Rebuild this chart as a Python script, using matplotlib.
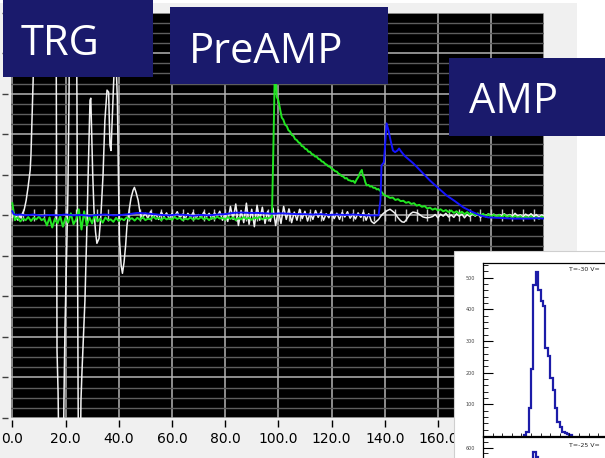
import numpy as np
import matplotlib.pyplot as plt
from matplotlib.patches import Rectangle

W, H = 605, 458

# ---------------- scope traces: time (us) / amplitude (div) ----------------
# TRG channel (white): ringing trigger pulse, then baseline
trg_pulse_t = [0.0, 0.5, 1.0, 1.6, 2.1, 2.7, 3.3, 3.8, 4.4, 5.2, 5.9, 6.7, 7.0, 7.4, 7.8, 8.2, 8.5, 8.9,
               16.4, 16.8, 17.2, 17.6, 19.1, 19.4, 19.8, 20.2, 20.6, 20.9, 21.3, 21.7,
               23.9, 24.3, 24.5, 24.7, 24.9, 25.5, 25.8, 26.2, 26.6, 27.3, 27.9, 28.5, 29.2, 29.5,
               29.8, 30.2, 30.7, 31.3, 31.8, 32.6, 33.3,
               34.1, 34.8, 35.6, 36.2, 36.7, 37.1, 37.7, 38.2, 38.8, 39.2, 39.5, 39.9, 40.3, 40.9,
               41.4, 42.0, 42.6, 43.1, 43.9, 44.6, 45.4, 45.9, 46.5, 47.3, 48.0, 48.8]
trg_pulse_v = [-0.05, 0.07, -0.10, 0.02, -0.12, 0.00, -0.07, 0.05, 0.12, 0.37, 0.69, 1.11, 1.48, 2.35, 3.28, 4.32, 5.3, 6.5,
               6.5, -3.33, -4.37, -6.5, -6.5, -4.6, -2.75, -1.6, -0.37, 0.62, 2.84, 6.5,
               6.5, 2.84, -0.86, -4.07, -6.5, -6.5, -4.57, -3.83, -3.21, -2.10, -0.62, 0.99, 2.84, 2.89,
               2.10, 1.06, 0.12, -0.42, -0.69, -0.57, 0.00,
               0.99, 2.35, 3.09, 3.04, 1.73, 1.60, 2.59, 3.46, 3.70, 3.40, 2.84, 0.86, -0.62, -1.23,
               -1.43, -1.16, -0.74, -0.25, 0.12, 0.42, 0.62, 0.69, 0.57, 0.37, 0.07, -0.07]
trg_noise_t = list(range(50, 137))
trg_noise_v = [0.05, -0.08, 0.10, -0.05, 0.02, -0.10, 0.08, -0.03, 0.06, -0.09,
               0.04, -0.02, 0.09, -0.06, 0.03, -0.08, 0.05, -0.04, 0.07, -0.07,
               0.02, -0.05, 0.08, -0.03, 0.05, -0.09, 0.06, -0.02, 0.10, -0.12,
               0.04, -0.15, 0.22, -0.10, 0.28, -0.25, 0.12, -0.18, 0.30, -0.22,
               0.15, -0.28, 0.25, -0.12, 0.20, -0.20, 0.10, -0.15, 0.18, -0.25,
               0.14, -0.20, 0.22, -0.10, 0.16, -0.18, 0.08, -0.12, 0.15, -0.08,
               0.10, -0.14, 0.06, -0.10, 0.12, -0.05, 0.08, -0.12, 0.04, -0.06,
               0.10, -0.08, 0.05, -0.10, 0.07, -0.04, 0.09, -0.07, 0.03, -0.09,
               0.06, -0.05, 0.08, -0.12, 0.04, -0.15, -0.20]
trg_ring_t = [137.7, 138.3, 139.2, 140.1, 141.0, 142.0, 143.0, 143.9, 144.9, 145.8, 146.5,
              147.3, 148.0, 148.8, 149.7, 150.6, 151.5, 152.5, 153.5, 154.4, 155.7, 157.0]
trg_ring_v = [-0.10, -0.04, 0.03, 0.08, 0.12, 0.15, 0.10, 0.05, -0.05, -0.12, -0.16,
              -0.17, -0.12, -0.04, 0.04, 0.08, 0.07, 0.05, 0.00, -0.04, -0.06, -0.05]
trg_tail_t = list(range(158, 201))
trg_tail_v = [-0.03, 0.02, -0.06, 0.03, -0.02, 0.05, -0.04, 0.01, -0.05, 0.04,
              -0.02, 0.03, -0.06, 0.02, -0.03, 0.05, -0.02, 0.04, -0.05, 0.02,
              -0.03, 0.04, -0.02, 0.03, -0.05, 0.02, -0.01, 0.04, -0.04, 0.02,
              -0.03, 0.05, -0.02, 0.01, -0.04, 0.03, -0.02, 0.04, -0.03, 0.02,
              -0.05, 0.01, -0.02]

# PreAMP channel (green)
pre_base_t = list(range(0, 98))
pre_base_v = [0.30, -0.12, -0.05, -0.15, -0.08, -0.12, -0.04, -0.14, -0.06, -0.10,
              -0.03, -0.12, -0.08, -0.25, -0.05, -0.30, -0.08, -0.20, -0.02, -0.28,
              -0.06, -0.18, 0.05, -0.22, -0.10, 0.15, -0.35, 0.10, -0.25, -0.05,
              -0.20, 0.02, -0.15, -0.08, -0.18, -0.05, -0.12, -0.10, -0.16, -0.06,
              -0.14, -0.08, -0.12, -0.05, -0.10, -0.07, -0.13, -0.06, -0.11, -0.04,
              -0.12, -0.08, -0.10, -0.03, -0.09, -0.06, -0.12, -0.05, -0.10, -0.07,
              -0.11, -0.04, -0.09, -0.06, -0.12, -0.08, -0.10, -0.05, -0.11, -0.07,
              -0.09, -0.04, -0.10, -0.06, -0.12, -0.05, -0.09, -0.03, -0.08, -0.06,
              -0.11, -0.04, -0.09, -0.05, -0.12, -0.06, -0.10, -0.04, -0.09, -0.06,
              -0.11, -0.05, -0.08, -0.04, -0.10, -0.06, -0.08, -0.05]
pre_pulse_t = [97.6, 97.9, 98.2, 98.6, 98.9, 99.4, 100.0, 100.6, 101.3, 101.9,
               102.5, 103.2, 103.8, 104.4, 105.1, 105.7, 106.3, 106.9, 107.6, 108.2,
               108.8, 109.4, 110.1, 110.7, 111.3, 111.9, 112.6, 113.2, 113.8, 114.4,
               115.1, 115.7, 116.3, 116.9, 117.6, 118.2, 118.8, 119.4, 120.1, 120.7,
               121.3, 122.0, 122.6, 123.2, 123.8, 124.4, 125.1, 125.7, 126.3, 127.0,
               127.6, 128.2, 128.8, 129.4, 130.1, 130.7, 131.4, 131.8, 132.2, 132.7,
               133.2, 133.9, 134.5, 135.1, 135.7, 136.4, 137.0, 137.6, 138.2, 138.9,
               139.5, 140.1]
pre_pulse_v = [-0.05, 0.86, 1.85, 3.33, 3.60, 2.92, 2.84, 2.64, 2.41, 2.36,
               2.24, 2.20, 2.10, 2.07, 1.98, 1.96, 1.88, 1.86, 1.80, 1.78,
               1.71, 1.70, 1.64, 1.63, 1.57, 1.57, 1.51, 1.50, 1.45, 1.45,
               1.39, 1.38, 1.33, 1.32, 1.27, 1.25, 1.21, 1.20, 1.15, 1.13,
               1.09, 1.08, 1.03, 1.01, 0.97, 0.96, 0.91, 0.92, 0.87, 0.86,
               0.84, 0.85, 0.80, 0.88, 0.95, 1.05, 1.12, 0.98, 0.95, 0.82,
               0.74, 0.75, 0.71, 0.72, 0.68, 0.68, 0.64, 0.65, 0.61, 0.57,
               0.52, 0.49]
pre_tail_t = list(range(141, 201))
pre_tail_v = [0.47, 0.43, 0.44, 0.38, 0.40, 0.35, 0.36, 0.31, 0.33, 0.28,
              0.30, 0.24, 0.26, 0.21, 0.23, 0.17, 0.19, 0.14, 0.17, 0.12,
              0.15, 0.10, 0.13, 0.08, 0.12, 0.06, 0.10, 0.04, 0.09, 0.03,
              0.08, 0.02, 0.06, 0.00, 0.05, -0.01, 0.04, -0.03, 0.03, -0.04,
              0.02, -0.04, 0.01, -0.06, 0.02, -0.05, 0.00, -0.07, -0.01, -0.06,
              -0.02, -0.08, -0.03, -0.07, -0.02, -0.08, -0.04, -0.09, -0.03, -0.07]

# AMP channel (blue)
amp_t = [0, 0.5, 1.5, 3, 5, 8,
         11, 14, 17, 20, 23, 26, 29, 32, 35, 38, 41, 44, 47, 50, 53, 56, 59, 62, 65, 68, 71,
         74, 77, 80, 83, 86, 89, 92, 95, 98, 101, 104, 107, 110, 113, 116, 119, 122, 125,
         128, 131, 134,
         137.7, 138.4, 138.8, 139.7, 140.7, 141.4, 142.2, 143.1, 143.9, 144.8, 145.4, 146.1, 147.6,
         150.8, 153.6, 157.0, 160.0, 163.3, 166.4, 169.5, 172.4, 175.8, 178.8, 182.1, 185.2,
         188.3, 191.4, 194.6, 197.0, 200.0]
amp_v = [0.10, 0.03, 0.01, 0.02, 0.00, 0.02,
         -0.01, 0.01, 0.00, 0.02, 0.00, 0.01, -0.01, 0.01, 0.02, 0.00, 0.01, 0.03, 0.06, 0.05,
         0.03, 0.01, 0.00, 0.02, 0.01, -0.01, 0.01, 0.00, 0.02, 0.03, 0.06, 0.07, 0.06, 0.06,
         0.05, 0.04, 0.05, 0.04, 0.03, 0.03, 0.02, 0.03, 0.01, 0.02, 0.01, 0.02, 0.01, 0.00,
         0.00, 0.37, 1.23, 1.31, 2.27, 2.10, 1.85, 1.60, 1.56, 1.60, 1.65, 1.58, 1.46,
         1.28, 1.09, 0.86, 0.68, 0.49, 0.35, 0.20, 0.10, 0.00, -0.05, -0.06, -0.07,
         -0.08, -0.08, -0.08, -0.07, -0.08]

xtick_vals = [0, 20, 40, 60, 80, 100, 120, 140, 160, 180, 200]
xtick_labels = ['0.0', '20.0', '40.0', '60.0', '80.0', '100.0', '120.0', '140.0', '160.0', '180.0', '200.0']

# pulse height spectra (inset)
hist_edges = [17, 18, 19, 20, 21, 22, 23, 24, 25, 26, 27, 28, 29, 30, 31, 32, 33, 34, 35, 36, 37]
hist_counts = [4, 12, 87, 210, 478, 519, 460, 425, 409, 278, 253, 184, 144, 87, 44, 28, 12, 8, 5, 2]
hist2_counts = [0, 8, 55, 240, 585, 566, 520, 450, 380, 300, 210, 150, 90, 50, 25, 12, 6, 3, 1, 0]
hist_yticks = [100, 200, 300, 400, 500]
hist_ylabels = ['100', '200', '300', '400', '500']
hist2_yticks = [500, 600]
hist2_ylabels = ['', '600']

labels = [('TRG', 3, 0, 150, 77, 21, 55),
          ('PreAMP', 170, 7, 218, 77, 189, 63),
          ('AMP', 449, 58, 170, 78, 469, 113)]

navy = '#1a1a6c'

fig = plt.figure(figsize=(W / 100, H / 100), dpi=100, facecolor='white')

# window background
bg = fig.add_axes([0, 0, 1, 1], zorder=-1)
bg.axis('off')
bg.add_patch(Rectangle((0, 3), 577, H, facecolor='#f0f0f0', edgecolor='none'))
shade = np.linspace(0.93, 0.55, 32).reshape(1, -1)
bg.imshow(shade, cmap='gray', vmin=0, vmax=1, extent=(563, 577, H, 3), aspect='auto')
bg.set_xlim(0, W)
bg.set_ylim(H, 0)

# scope display
ax = fig.add_axes([11 / W, (H - 418) / H, 533.3 / W, 405.3 / H], zorder=1)
ax.set_facecolor('black')
ax.set_xlim(-0.5, 200)
ax.set_ylim(-5, 5)
ax.set_xticks(xtick_vals)
ax.set_xticklabels(xtick_labels, fontsize=11, color='#2e2e50', family='Liberation Sans')
ax.set_yticks(range(-5, 6))
ax.set_yticks(np.arange(-5, 5.01, 0.25), minor=True)
ax.set_yticklabels([])
ax.tick_params(axis='x', direction='out', length=5, width=1, color='black', pad=3.6)
ax.tick_params(axis='y', which='major', direction='out', length=4.6, width=1, color='#404040')
ax.tick_params(axis='y', which='minor', length=0)
for s in ax.spines.values():
    s.set_visible(False)
ax.spines['left'].set_position(('outward', 2))
ax.spines['bottom'].set_position(('outward', 1.5))
ax.grid(which='minor', axis='y', color='#5e5e5e', lw=1.0)
ax.grid(which='major', axis='both', color='#b4b4b4', lw=1.1)
ax.set_axisbelow(True)
# small marks along the centre line
ax.vlines(range(0, 201, 4), -0.15, 0.15, color='#c8c8c8', lw=1.0, zorder=1.5)

ax.plot(trg_pulse_t + trg_noise_t + trg_ring_t + trg_tail_t,
        trg_pulse_v + trg_noise_v + trg_ring_v + trg_tail_v,
        color='#f2f2f2', lw=1.1, zorder=2)
ax.plot(pre_base_t + pre_pulse_t + pre_tail_t,
        pre_base_v + pre_pulse_v + pre_tail_v,
        color='#22e622', lw=1.4, zorder=3)
ax.plot(amp_t, amp_v, color='#1414ff', lw=1.4, zorder=4)

# channel labels and inset frame
ov = fig.add_axes([0, 0, 1, 1], zorder=3)
ov.set_xlim(0, W)
ov.set_ylim(H, 0)
ov.axis('off')
ov.patch.set_alpha(0)
for text, x0, y0, w, h, tx, ty in labels:
    ov.add_patch(Rectangle((x0, y0), w, h, facecolor=navy, edgecolor='none'))
    ov.text(tx, ty, text, color='white', fontsize=30, family='Open Sans',
            ha='left', va='baseline')
ov.add_patch(Rectangle((454, 251), 170, 220, facecolor='white', edgecolor='#cfcfcf', lw=0.8))


# pulse height histograms
def hist_panel(rect, counts, ymax, yticks, ylabels, tag, tag_y):
    a = fig.add_axes(rect, zorder=4)
    a.set_facecolor('white')
    a.stairs(counts, hist_edges, color='#1c1ca8', lw=1.6)
    a.set_xlim(0, 80)
    a.set_ylim(0, ymax)
    a.set_xticks(range(0, 81, 4))
    a.set_xticklabels([])
    a.set_yticks(yticks)
    a.set_yticks(range(0, ymax, 20), minor=True)
    a.set_yticklabels(ylabels, fontsize=3.5, color='#444444')
    a.tick_params(axis='y', which='major', direction='in', length=7, width=0.8, pad=6)
    a.tick_params(axis='y', which='minor', direction='in', length=3.5, width=0.6)
    a.tick_params(axis='x', direction='in', length=2, width=0.6)
    for s in a.spines.values():
        s.set_linewidth(0.9)
        s.set_color('black')
    a.text(0.45, tag_y, tag, transform=a.transAxes, fontsize=4.5, color='#222222',
           ha='left', va='center')
    return a


hist_panel([483 / W, (H - 436) / H, 192 / W, 173 / H], hist_counts, 546,
           hist_yticks, hist_ylabels, 'T=-30 V=', 0.96)
hist_panel([483 / W, (H - 610) / H, 192 / W, 173 / H], hist2_counts, 640,
           hist2_yticks, hist2_ylabels, 'T=-25 V=', 0.95)

fig.savefig('out.png', dpi=100, facecolor=fig.get_facecolor())
